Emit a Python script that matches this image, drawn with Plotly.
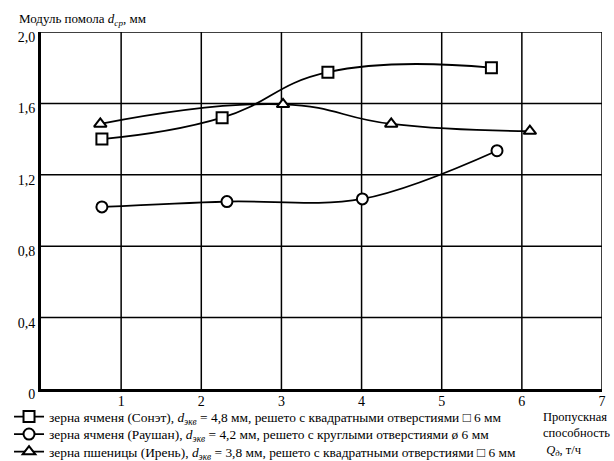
import plotly.graph_objects as go

# Data
x_sonet = [0.76, 2.26, 3.58, 5.62]
y_sonet = [1.40, 1.52, 1.775, 1.80]
x_raushan = [0.76, 2.32, 4.01, 5.69]
y_raushan = [1.02, 1.05, 1.065, 1.335]
x_iren = [0.74, 3.02, 4.37, 6.10]
y_iren = [1.485, 1.595, 1.485, 1.445]

x_ticks = [1, 2, 3, 4, 5, 6, 7]
y_ticks = [0, 0.4, 0.8, 1.2, 1.6, 2.0]
y_tick_labels = ["0", "0,4", "0,8", "1,2", "1,6", "2,0"]

names = [
    "зерна ячменя (Сонэт), <i>d</i><sub><i>экв</i></sub> = 4,8 мм, решето с квадратными отверстиями \u25a1 6 мм",
    "зерна ячменя (Раушан), <i>d</i><sub><i>экв</i></sub> = 4,2 мм, решето с круглыми отверстиями ø 6 мм",
    "зерна пшеницы (Ирень), <i>d</i><sub><i>экв</i></sub> = 3,8 мм, решето с квадратными отверстиями \u25a1 6 мм",
]
symbols = ["square", "circle", "triangle-up"]
smooth = [1.3, 1.0, 1.3]
series = [(x_sonet, y_sonet), (x_raushan, y_raushan), (x_iren, y_iren)]
legend_ids = ["legend", "legend2", "legend3"]
legend_y = [-0.078, -0.127, -0.176]

FONT = "Liberation Serif"

fig = go.Figure()
for (xs, ys), nm, sym, sm, lid in zip(series, names, symbols, smooth, legend_ids):
    fig.add_trace(go.Scatter(
        x=xs, y=ys, name=nm, mode="lines+markers", legend=lid,
        line=dict(color="black", width=1.8, shape="spline", smoothing=sm),
        marker=dict(symbol=sym, size=11, color="white",
                    line=dict(color="black", width=2)),
    ))

legend_common = dict(
    x=-0.057, xanchor="left", yanchor="middle",
    font=dict(family=FONT, size=13.4, color="black"),
    bgcolor="rgba(0,0,0,0)", borderwidth=0, itemwidth=30,
)
legends = {}
for lid, ly in zip(legend_ids, legend_y):
    legends[lid] = dict(legend_common, y=ly)

fig.update_layout(
    width=614, height=461,
    margin=dict(l=41, r=12, t=32, b=72, autoexpand=False),
    paper_bgcolor="white", plot_bgcolor="white",
    font=dict(family=FONT, size=13, color="black"),
    showlegend=True,
    **legends,
    xaxis=dict(
        range=[0, 7], tickvals=x_ticks, ticktext=[str(v) for v in x_ticks],
        showgrid=False, showline=True, linecolor="black", linewidth=3,
        ticks="", zeroline=False, tickfont=dict(family=FONT, size=14),
        ticklabelstandoff=-3,
    ),
    yaxis=dict(
        range=[0, 2.0], tickvals=y_ticks, ticktext=y_tick_labels,
        showgrid=False, showline=True, linecolor="black", linewidth=3,
        ticks="", zeroline=False, tickfont=dict(family=FONT, size=14),
        ticklabelshift=5,
    ),
    annotations=[
        dict(xref="paper", yref="paper", x=-0.043, y=1.036,
             xanchor="left", yanchor="middle", showarrow=False,
             text="Модуль помола <i>d</i><sub><i>ср</i></sub>, мм",
             font=dict(family=FONT, size=13)),
        dict(xref="paper", yref="paper", x=0.891, y=-0.054,
             xanchor="left", yanchor="top", showarrow=False, align="left",
             text="Пропускная<br>способность<br> <i>Q</i><sub><i>д</i></sub>, т/ч",
             font=dict(family=FONT, size=12.5)),
    ],
)

# grid lines at tick positions
for xv in x_ticks:
    fig.add_shape(type="line", xref="x", yref="paper", x0=xv, x1=xv, y0=0, y1=1,
                  line=dict(color="black", width=1.5), layer="below")
for yv in y_ticks[1:]:
    fig.add_shape(type="line", xref="paper", yref="y", x0=0, x1=1, y0=yv, y1=yv,
                  line=dict(color="black", width=1.5), layer="below")

fig.write_html("out.html", config={"displayModeBar": False},
               post_script="document.body.style.margin='0';")
